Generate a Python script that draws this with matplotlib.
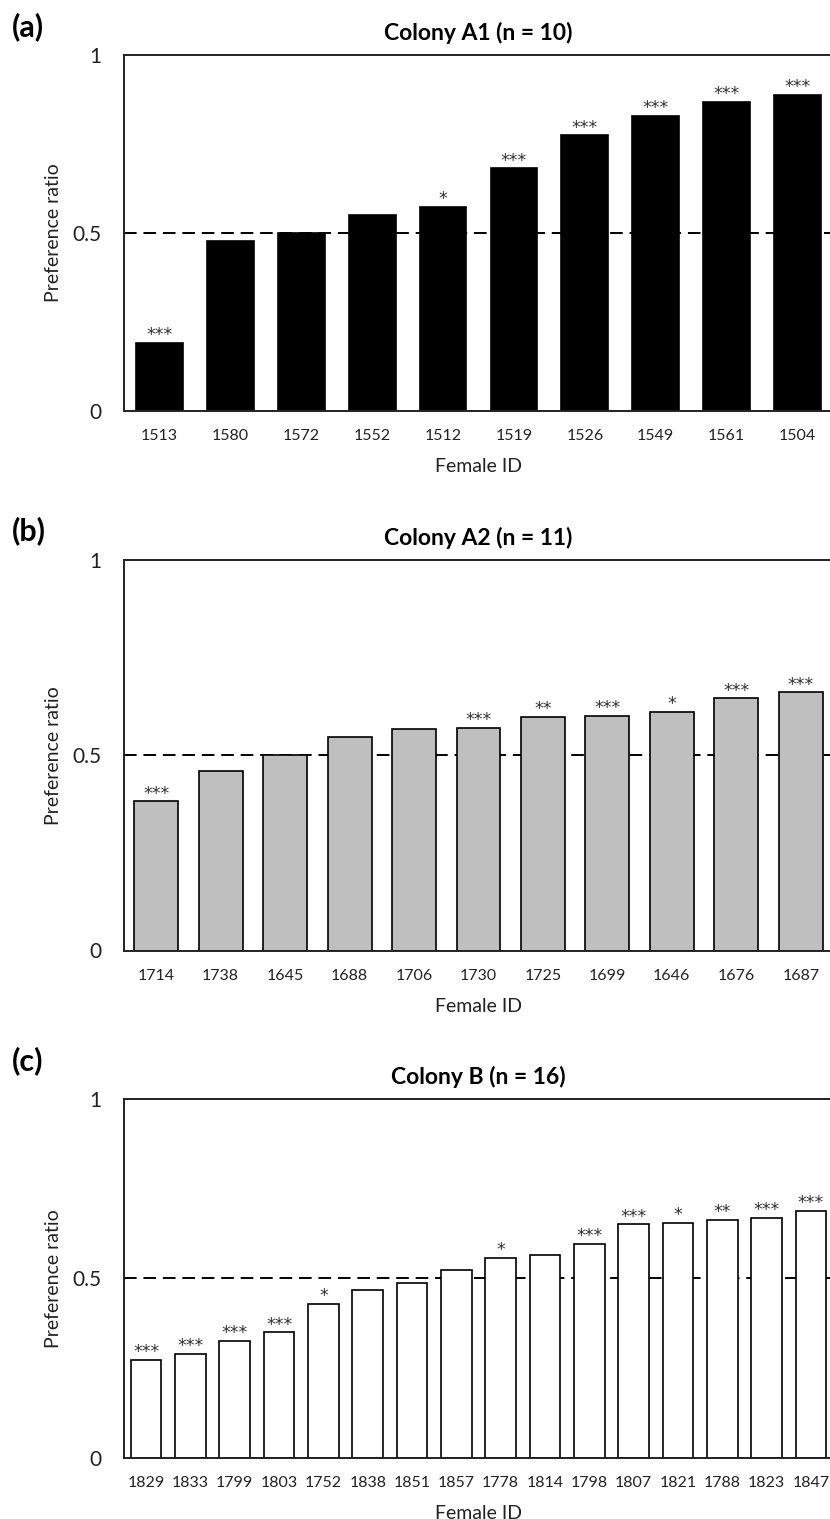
import matplotlib
matplotlib.use("Agg")
import matplotlib.pyplot as plt

plt.rcParams["font.family"] = ["Lato", "DejaVu Sans"]

# Colony A1
ids_a = ["1513", "1580", "1572", "1552", "1512", "1519", "1526", "1549", "1561", "1504"]
ratio_a = [0.192, 0.477, 0.500, 0.550, 0.574, 0.682, 0.774, 0.829, 0.868, 0.888]
sig_a = ["***", "", "", "", "*", "***", "***", "***", "***", "***"]

# Colony A2
ids_b = ["1714", "1738", "1645", "1688", "1706", "1730", "1725", "1699", "1646", "1676", "1687"]
ratio_b = [0.382, 0.459, 0.500, 0.547, 0.568, 0.570, 0.599, 0.601, 0.611, 0.646, 0.661]
sig_b = ["***", "", "", "", "", "***", "**", "***", "*", "***", "***"]

# Colony B
ids_c = ["1829", "1833", "1799", "1803", "1752", "1838", "1851", "1857",
         "1778", "1814", "1798", "1807", "1821", "1788", "1823", "1847"]
ratio_c = [0.273, 0.290, 0.326, 0.349, 0.428, 0.467, 0.487, 0.524,
           0.557, 0.564, 0.596, 0.650, 0.655, 0.663, 0.668, 0.688]
sig_c = ["***", "***", "***", "***", "*", "", "", "", "*", "", "***", "***", "*", "**", "***", "***"]

W, H = 830, 1519
fig = plt.figure(figsize=(W / 100, H / 100), dpi=100)

panels = [
    ("(a)", "Colony A1 (n = 10)", ids_a, ratio_a, sig_a, "black", 0.66, 55, 411, 27),
    ("(b)", "Colony A2 (n = 11)", ids_b, ratio_b, sig_b, "#bfbfbf", 0.68, 560, 950.5, 531),
    ("(c)", "Colony B (n = 16)", ids_c, ratio_c, sig_c, "white", 0.69, 1099, 1457.5, 1061),
]

for tag, title, ids, vals, sig, col, bw, top, bot, tag_y in panels:
    ax = fig.add_axes([124 / W, 1 - bot / H, 709 / W, (bot - top) / H])
    x = range(len(ids))
    ax.axhline(0.5, color="black", lw=1.4, linestyle=(0, (6.5, 3.5)), zorder=1)
    ax.bar(x, vals, width=bw, color=col, edgecolor="black", linewidth=1.2, zorder=2)
    for i, v in enumerate(vals):
        if sig[i]:
            ax.annotate(sig[i], (i, v), xytext=(0, -1), textcoords="offset points",
                        ha="center", va="bottom", fontsize=12.5, color="#333333",
                        family="DejaVu Sans")
    ax.set_xlim(-0.5, len(ids) - 0.5)
    ax.set_ylim(0, 1)
    ax.set_yticks([0, 0.5, 1])
    ax.set_yticklabels(["0", "0.5", "1"])
    ax.set_xticks(list(x))
    ax.set_xticklabels(ids)
    ax.tick_params(axis="y", length=0, pad=16, labelsize=15, labelcolor="#222222")
    ax.tick_params(axis="x", length=0, pad=13, labelsize=11.5, labelcolor="#222222")
    ax.spines["right"].set_visible(False)
    for s in ["left", "top", "bottom"]:
        ax.spines[s].set_linewidth(1.4)
        ax.spines[s].set_color("#222222")
    ax.set_xlabel("Female ID", fontsize=14, labelpad=11, color="#222222")
    ax.set_ylabel("Preference ratio", fontsize=14, labelpad=8, color="#222222")
    ax.set_title(title, fontsize=16.5, fontweight="bold", pad=11)
    fig.text(12 / W, 1 - tag_y / H, tag, fontsize=22, fontweight="bold", va="center", ha="left")

plt.savefig("out.png", dpi=100)
